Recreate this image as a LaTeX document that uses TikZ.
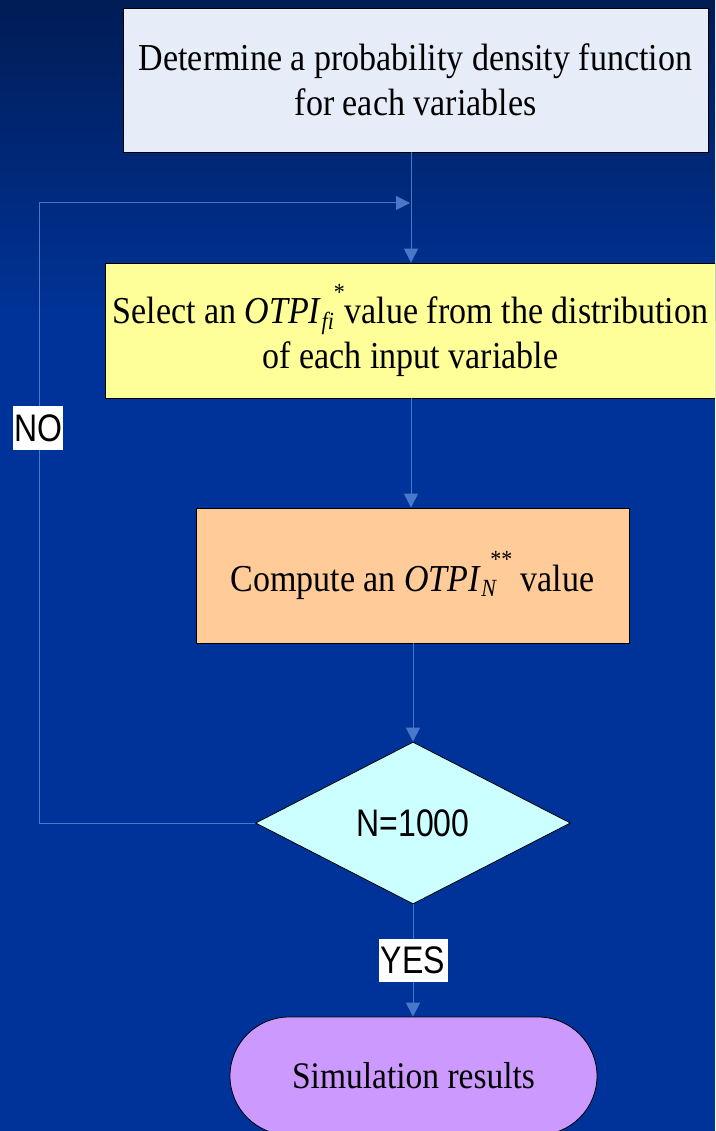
\documentclass[tikz,border=0pt]{standalone}
\usepackage{fontspec}
\setmainfont{Liberation Serif}
\newfontfamily\labelfont{Liberation Sans}
\usetikzlibrary{arrows.meta,shapes.geometric,shapes.misc}

\definecolor{bgmain}{HTML}{003399}
\definecolor{bgtop}{HTML}{001C55}
\definecolor{linkblue}{HTML}{4A78C8}
\definecolor{boxgrey}{HTML}{E6ECF8}
\definecolor{boxyellow}{HTML}{FFFF99}
\definecolor{boxorange}{HTML}{FFCC99}
\definecolor{boxcyan}{HTML}{CCFFFF}
\definecolor{boxviolet}{HTML}{CC99FF}

% slightly tall lettering
\newcommand{\tline}[1]{\scalebox{1}[1.12]{#1}}
\newcommand{\tagline}[1]{\scalebox{1}[1.2]{#1}}
\newcommand{\otpisub}[1]{\raisebox{-0.3ex}{\fontsize{22}{22}\selectfont\itshape #1}}
\newcommand{\otpisup}[1]{\raisebox{0.62em}{\fontsize{22}{22}\selectfont #1}}

\tikzset{
  procbox/.style={draw=black, line width=0.8pt, rectangle, align=center,
    inner sep=0pt, font=\fontsize{34}{45}\selectfont},
  flowlink/.style={draw=linkblue, line width=1pt},
  flowarrow/.style={flowlink, -{Triangle[length=14pt,width=14pt]}},
  tag/.style={fill=white, inner sep=0pt, font=\labelfont\fontsize{32}{32}\selectfont}
}

\begin{document}
\begin{tikzpicture}[x=1pt,y=-1pt]
  % page and background
  \useasboundingbox (0,0) rectangle (715,1131);
  \fill[bgmain] (0,0) rectangle (715,1131);
  \shade[top color=bgtop, bottom color=bgmain] (0,0) rectangle (715,320);
  \begin{scope}
  \clip (0,0) rectangle (715,1131);

  % process steps
  \node[procbox, fill=boxgrey, minimum width=585pt, minimum height=144pt]
    (pdf) at (415.5,80)
    {\tline{Determine a probability density function}\\\tline{for each variables}};
  \node[procbox, fill=boxyellow, minimum width=610pt, minimum height=135pt]
    (select) at (410.5,330.5)
    {\tline{Select an \textit{OTPI}\otpisub{fi}\otpisup{*}value from the distribution}\\
     \tline{of each input variable}};
  \node[procbox, fill=boxorange, minimum width=433pt, minimum height=135pt]
    (compute) at (412.5,575.5)
    {\tline{Compute an \textit{OTPI}\rlap{\otpisub{N}}\hspace{9pt}\otpisup{**} value}};
  \node[draw=black, line width=0.8pt, diamond, fill=boxcyan, aspect=1.944,
    minimum width=315pt, minimum height=162pt, inner sep=0pt,
    font=\labelfont\fontsize{32}{32}\selectfont]
    (check) at (413,823) {\tagline{N=1000}};
  \node[draw=black, line width=0.8pt, rounded rectangle, fill=boxviolet,
    minimum width=367pt, minimum height=118pt, inner sep=0pt,
    font=\fontsize{33.5}{34}\selectfont]
    (result) at (413.5,1076) {\tline{Simulation results}};

  % loop back point
  \coordinate (merge) at (411,203);
  \coordinate (mergein) at (410,203);

  % connectors
  \draw[flowarrow] (pdf.south -| merge) -- (select.north -| merge);
  \draw[flowarrow] (select.south -| merge) -- (compute.north -| merge);
  \draw[flowarrow] (compute.south -| check.north) -- (check.north);
  \draw[flowarrow] (check.south) -- (check.south |- result.north)
    node[tag, pos=0.5, minimum width=69pt, minimum height=43pt] (yes) {\tagline{YES}};
  \draw[flowarrow] (check.west) -- (39,823) -- (39,203) -- (mergein);
  \node[tag, minimum width=50pt, minimum height=44pt] (no) at (38,428) {\tagline{NO}};
  \end{scope}
\end{tikzpicture}
\end{document}
